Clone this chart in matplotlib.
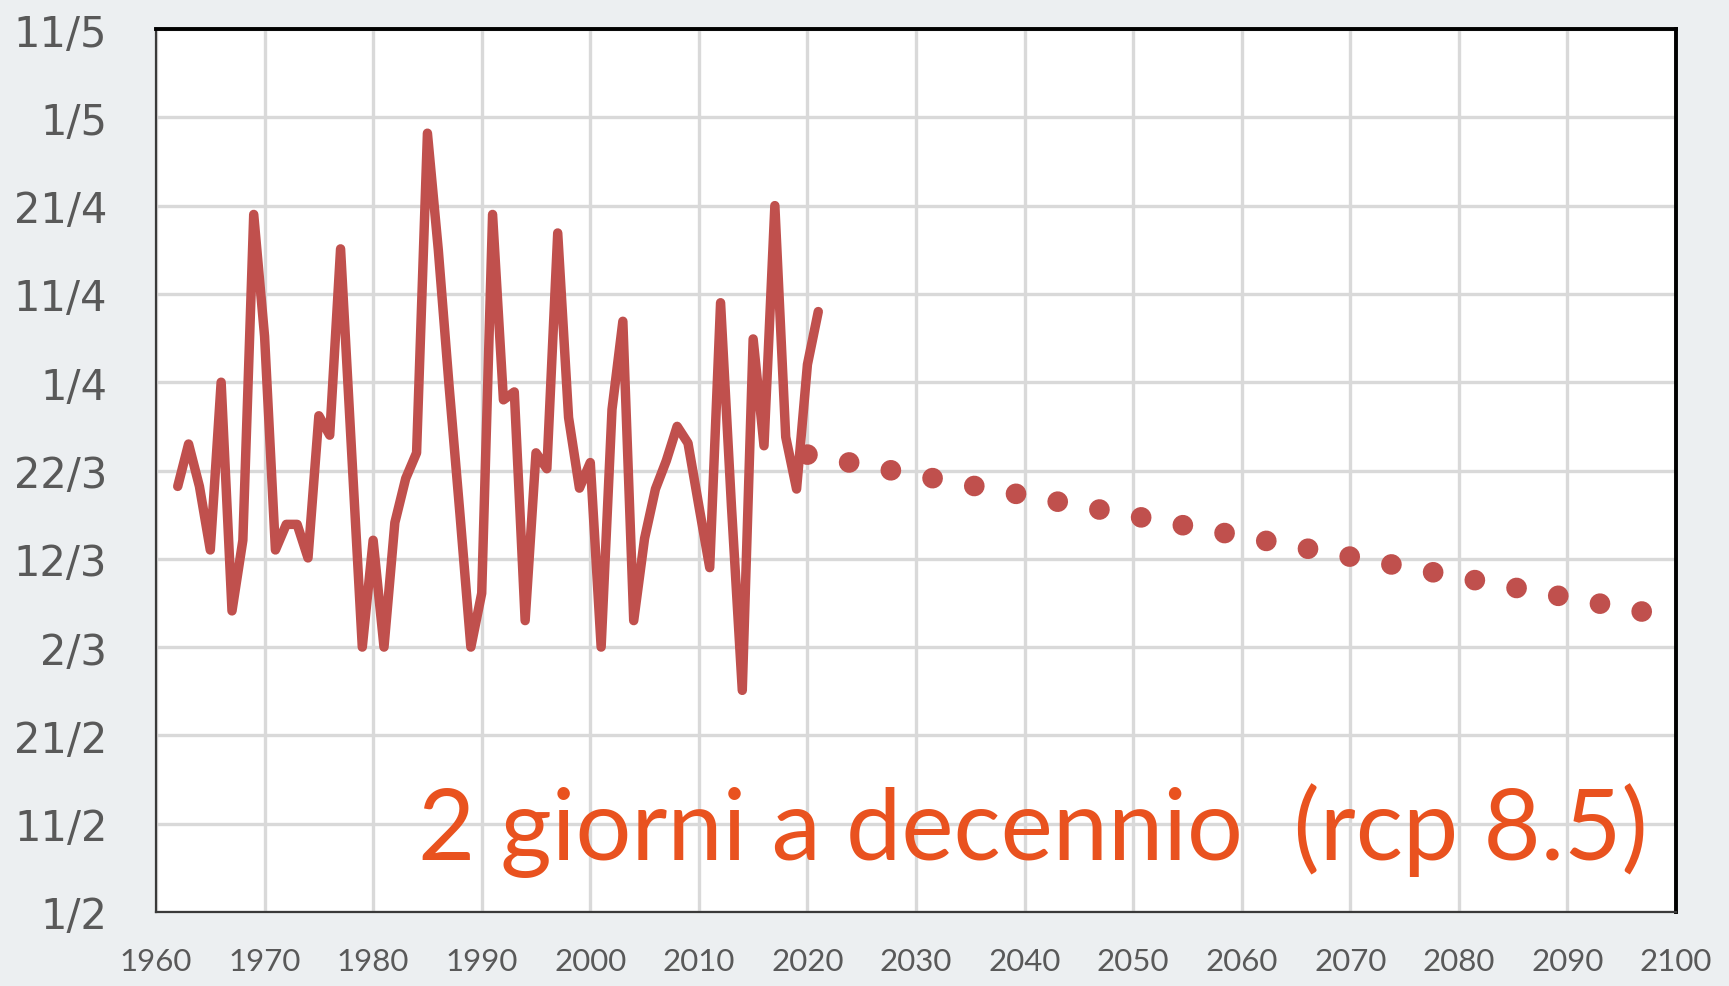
import matplotlib
matplotlib.use("Agg")
import matplotlib.pyplot as plt
from matplotlib import font_manager

# ---- data ----
years = list(range(1962, 2022))
# days after 1 Feb (Excel date axis, 10-day gridlines)
days = [48.2, 53.0, 48.2, 41.0, 60.0, 34.1, 42.1, 79.0, 65.2, 41.0,
        43.9, 43.9, 40.1, 56.2, 54.0, 75.1, 52.5, 30.0, 42.1, 30.0,
        44.1, 49.1, 52.0, 88.2, 75.0, 59.5, 45.0, 30.0, 36.1, 79.0,
        58.0, 58.9, 33.0, 52.0, 50.2, 76.9, 56.0, 48.0, 50.9, 30.0,
        56.9, 66.9, 33.0, 42.3, 47.9, 51.1, 55.0, 53.1, 46.0, 39.0,
        69.0, 46.0, 25.1, 64.9, 52.8, 80.0, 53.8, 47.9, 62.0, 68.0]
trend_years = [2020, 2100]
trend_days = [51.8, 33.3]

y_ticks = [0, 10, 20, 30, 40, 50, 60, 70, 80, 90, 100]
y_labels = ["1/2", "11/2", "21/2", "2/3", "12/3", "22/3", "1/4", "11/4", "21/4", "1/5", "11/5"]
x_ticks = list(range(1960, 2101, 10))
annotation = "2 giorni a decennio  (rcp 8.5)"

# ---- style ----
W, H, DPI = 1729, 987, 100
bg = "#ECEFF1"
line_c = "#C0504D"
txt_c = "#E9521F"
tick_c = "#595959"
installed = {f.name for f in font_manager.fontManager.ttflist}
cond = "Lato" if "Lato" in installed else "DejaVu Sans"

fig = plt.figure(figsize=(W / DPI, H / DPI), dpi=DPI, facecolor=bg)
L, R, T, B = 156 / W, 1676 / W, 1 - 30 / H, 1 - 913 / H
ax = fig.add_axes([L, B, R - L, T - B])
ax.set_facecolor("white")

ax.plot(years, days, color=line_c, lw=6.8, solid_joinstyle="round",
        solid_capstyle="round", zorder=3)
ax.plot(trend_years, trend_days, color=line_c, lw=14.9,
        linestyle=(0, (0.001, 2.05)), dash_capstyle="round", zorder=3)

ax.set_xlim(1960, 2100)
ax.set_ylim(0, 100)
ax.set_xticks(x_ticks)
ax.set_yticks(y_ticks)
ax.set_yticklabels(y_labels)
ax.grid(True, color="#D9D9D9", lw=2.4, zorder=0)
ax.set_axisbelow(True)
ax.tick_params(length=0)
ax.tick_params(axis="y", pad=35, labelsize=30, labelcolor=tick_c)
ax.tick_params(axis="x", pad=25, labelsize=22.5, labelcolor=tick_c)
for lab in ax.get_xticklabels():
    lab.set_fontfamily(cond)
for lab in ax.get_yticklabels():
    lab.set_fontfamily("DejaVu Sans")

for s in ("top", "right"):
    ax.spines[s].set_color("black")
    ax.spines[s].set_linewidth(2.8)
for s in ("left", "bottom"):
    ax.spines[s].set_color("#3A3A3A")
    ax.spines[s].set_linewidth(1.6)

t = fig.text(1648 / W, 1 - 860 / H, annotation, color=txt_c, fontsize=64,
             family=cond, ha="right", va="baseline")
fig.canvas.draw()
bb = t.get_window_extent()
t.set_fontsize(64 * 1229 / bb.width)

fig.savefig("out.png", dpi=DPI, facecolor=bg)
